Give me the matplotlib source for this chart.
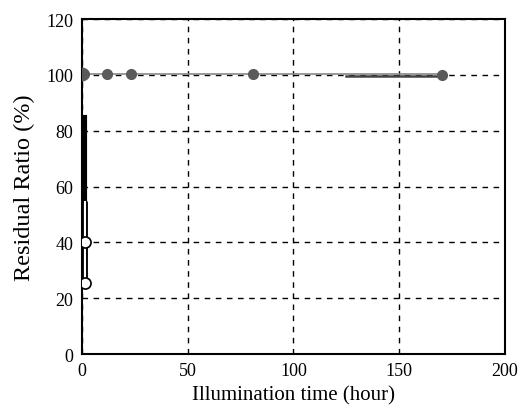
import matplotlib
matplotlib.use("Agg")
import matplotlib.pyplot as plt

plt.rcParams['font.family'] = ['Liberation Serif', 'DejaVu Serif']

# filled grey points
time_h = [1, 12, 23, 81, 170]
ratio = [100.5, 100.5, 100.5, 100.5, 100]

# dark segment near the end
seg_x = [125, 170]
seg_y = [99.6, 99.6]

# vertical bars at the start (black and open)
bar_x = 1.5
black_bar = [55, 85]
open_bar = [25, 55]

# open points
open_x = [1.5, 1.5]
open_y = [40, 25.5]

fig = plt.figure(figsize=(5.18, 4.10), dpi=100)
ax = fig.add_axes([0.158, 0.134, 0.817, 0.817])

ax.plot([0, 170], [100.5, 100.5], color='#888888', lw=1.2, zorder=3)
ax.plot(seg_x, seg_y, color='#444444', lw=1.8, zorder=3)
ax.plot(time_h, ratio, 'o', color='#5a5a5a', ms=7, zorder=4)
ax.plot([0], [100.5], 'o', color='#5a5a5a', ms=9, zorder=4)

ax.plot([bar_x, bar_x], black_bar, color='black', lw=3, zorder=3)
ax.plot([bar_x, bar_x], open_bar, color='black', lw=3.5, zorder=3, solid_capstyle='butt')
ax.plot([bar_x, bar_x], open_bar, color='white', lw=1.5, zorder=3, solid_capstyle='butt')
ax.plot(open_x, open_y, 'o', mfc='white', mec='black', ms=8, mew=1.2, zorder=5)

ax.set_xlim(0, 200)
ax.set_ylim(0, 120)
ax.set_xticks([0, 50, 100, 150, 200])
ax.set_yticks([0, 20, 40, 60, 80, 100, 120])
ax.tick_params(length=0, labelsize=13, pad=6)
ax.grid(True, color='black', linestyle=(0, (4, 4)), lw=1)
for s in ax.spines.values():
    s.set_linewidth(1.5)
ax.set_axisbelow(True)
ax.set_xlabel('Illumination time (hour)', fontsize=15)
ax.set_ylabel('Residual Ratio (%)', fontsize=17.5, labelpad=8)

fig.savefig('out.png', dpi=100)
